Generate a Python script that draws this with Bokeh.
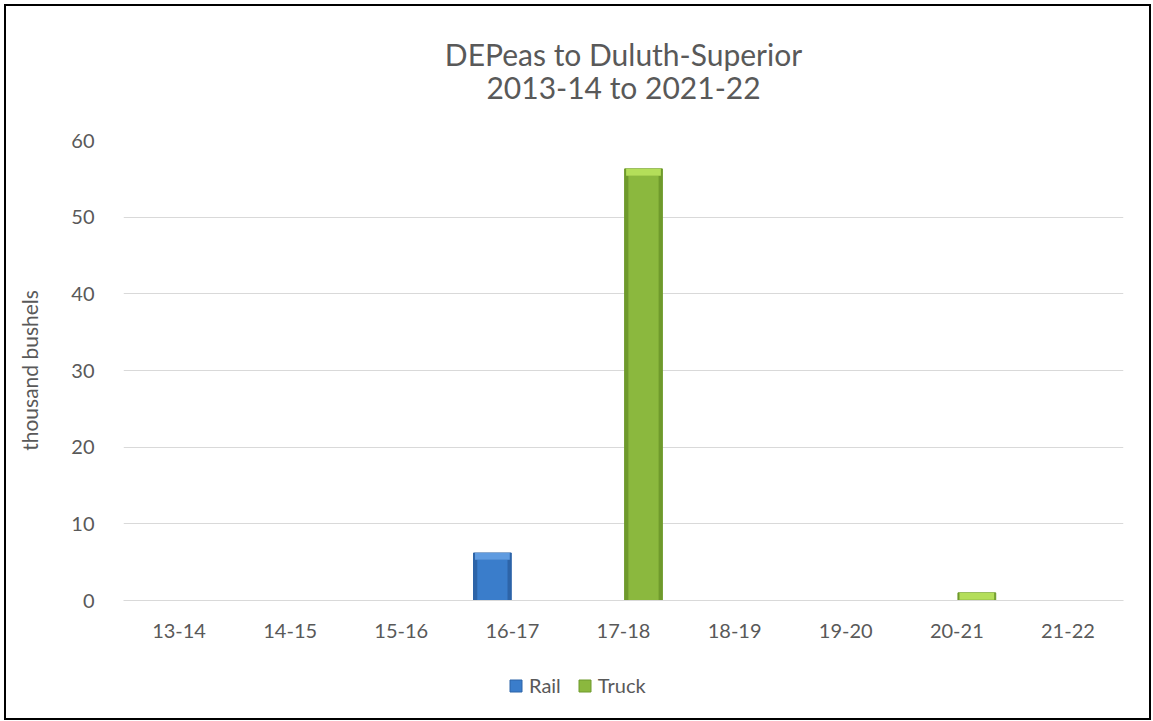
from bokeh.plotting import figure
from bokeh.layouts import column
from bokeh.models import (FactorRange, Range1d, FixedTicker, ColumnDataSource,
                          Legend, LegendItem)
from bokeh.core.properties import value
from bokeh.transform import dodge
from bokeh.embed import file_html
from bokeh.resources import INLINE

# ---- data ----
seasons = ["13-14", "14-15", "15-16", "16-17", "17-18", "18-19", "19-20", "20-21", "21-22"]
rail = [0, 0, 0, 6.2, 0, 0, 0, 0, 0]
truck = [0, 0, 0, 0, 56.3, 0, 0, 1.0, 0]
y_ticks = [0, 10, 20, 30, 40, 50, 60]
series_names = ["Rail", "Truck"]
title_line1 = "DEPeas to Duluth-Superior"
title_line2 = "2013-14 to 2021-22"
y_label = "thousand bushels"

# ---- style ----
FONT = "Lato"
TEXT = "#595959"
GRID = "#D9D9D9"
BAR_W = 0.34
CAP = 0.9  # bevel highlight height in data units
W = 1143
RAIL_C = ("#2D64A8", "#3A7DCB", "#5F9BE0")
TRUCK_C = ("#6F9A2C", "#8BB83E", "#B4DE5A")


def blank_fig(height):
    f = figure(width=W, height=height, x_range=Range1d(0, 1), y_range=Range1d(0, 1),
               output_backend="svg", toolbar_location=None, min_border=0)
    f.axis.visible = False
    f.grid.grid_line_color = None
    f.outline_line_color = None
    f.border_fill_color = "white"
    return f


# ---- title panel ----
p_top = blank_fig(120)
p_top.text(x=[0.5, 0.5], y=[0.607, 0.332], text=[title_line1, title_line2],
           text_font=value(FONT), text_font_size="30px", text_color=TEXT,
           text_align="center", text_baseline="middle")

# ---- main chart ----
p = figure(x_range=FactorRange(*seasons), y_range=Range1d(0, 60),
           width=W, height=534, output_backend="svg", toolbar_location=None,
           min_border_left=117, min_border_right=26, min_border_top=14,
           min_border_bottom=60)
p.outline_line_color = None
p.border_fill_color = "white"


def series_source(values):
    xs = [s for s, v in zip(seasons, values) if v > 0]
    vs = [v for v in values if v > 0]
    return ColumnDataSource(dict(x=xs, top=vs,
                                 cap_bottom=[max(v - CAP, 0) for v in vs]))


def draw(values, offset, colors):
    dark, mid, light = colors
    src = series_source(values)
    xd = dodge("x", offset, range=p.x_range)
    p.vbar(x=xd, top="top", bottom=0, width=BAR_W, source=src,
           fill_color=dark, line_color=dark, line_width=1)
    p.vbar(x=xd, top="cap_bottom", bottom=0, width=BAR_W * 0.8, source=src,
           fill_color=mid, line_color=None)
    p.vbar(x=xd, top="top", bottom="cap_bottom", width=BAR_W * 0.92, source=src,
           fill_color=light, line_color=None)


draw(rail, -0.18, RAIL_C)
draw(truck, 0.18, TRUCK_C)

p.yaxis.ticker = FixedTicker(ticks=y_ticks)
p.yaxis.axis_line_color = None
p.yaxis.major_tick_line_color = None
p.yaxis.minor_tick_line_color = None
p.yaxis.major_label_text_font = FONT
p.yaxis.major_label_text_font_size = "20px"
p.yaxis.major_label_text_color = TEXT
p.yaxis.major_label_standoff = 23
p.yaxis.axis_label = y_label
p.yaxis.axis_label_text_font = FONT
p.yaxis.axis_label_text_font_size = "21px"
p.yaxis.axis_label_text_font_style = "normal"
p.yaxis.axis_label_text_color = TEXT
p.yaxis.axis_label_standoff = 26

p.xaxis.axis_line_color = GRID
p.xaxis.major_tick_line_color = None
p.xaxis.minor_tick_line_color = None
p.xaxis.major_label_text_font = FONT
p.xaxis.major_label_text_font_size = "20px"
p.xaxis.major_label_text_color = TEXT
p.xaxis.major_label_standoff = 17

p.xgrid.grid_line_color = None
p.ygrid.grid_line_color = GRID
p.ygrid.grid_line_width = 1

# ---- legend panel ----
p_leg = blank_fig(58)
leg_items = []
for name, colors in zip(series_names, [RAIL_C, TRUCK_C]):
    # swatch renderer kept outside the visible range; only its legend glyph shows
    r = p_leg.vbar(x=[-5], top=[-5], bottom=[-6], width=0.1, fill_color=colors[1],
                   line_color=colors[0], line_width=1)
    leg_items.append(LegendItem(label=name, renderers=[r]))
legend = Legend(items=leg_items, orientation="horizontal", location=(385, 21),
                label_text_font=FONT, label_text_font_size="20px",
                label_text_color=TEXT, glyph_width=15, glyph_height=15,
                label_standoff=6, spacing=16, border_line_color=None,
                background_fill_alpha=0, margin=0, padding=0)
p_leg.add_layout(legend, "center")

layout = column(p_top, p, p_leg, spacing=0)
layout.styles = {"border": "2px solid black", "margin": "4px"}

open("out.html", "w").write(file_html(layout, INLINE))
